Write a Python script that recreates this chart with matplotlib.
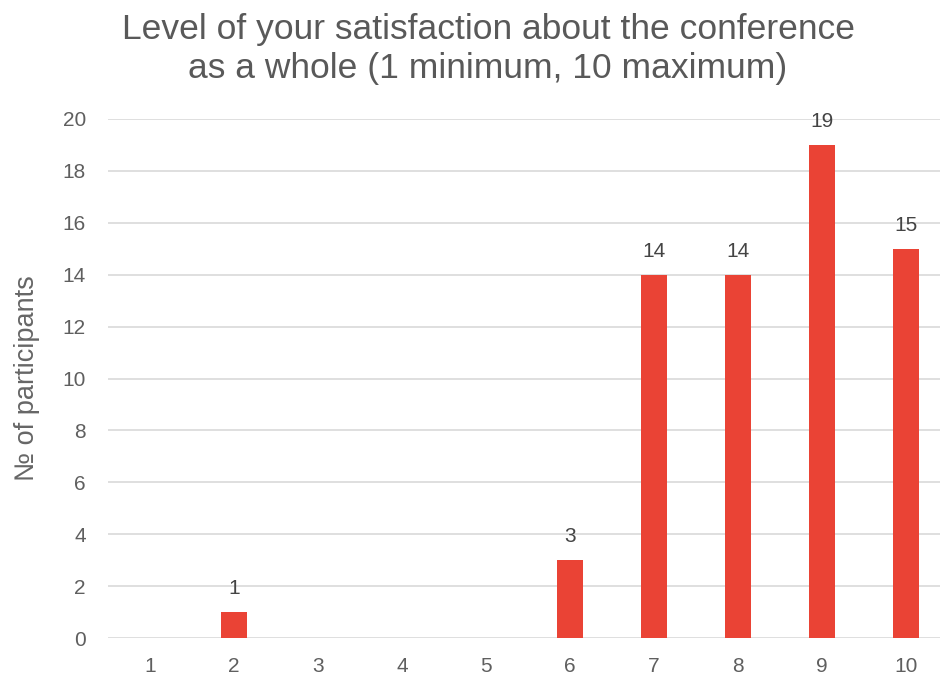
import matplotlib
matplotlib.use("Agg")
import matplotlib.pyplot as plt

plt.rcParams['font.family'] = ['Liberation Sans', 'DejaVu Sans']

# Survey results: satisfaction score vs number of participants
scores = [1, 2, 3, 4, 5, 6, 7, 8, 9, 10]
participants = [0, 1, 0, 0, 0, 3, 14, 14, 19, 15]
y_ticks = [0, 2, 4, 6, 8, 10, 12, 14, 16, 18, 20]

title_lines = ["Level of your satisfaction about the conference",
               "as a whole (1 minimum, 10 maximum)"]
ylabel = "№ of participants"

fig = plt.figure(figsize=(9.4, 6.76), dpi=100)
ax = fig.add_axes([108 / 940, 38 / 676, 840 / 940, 519 / 676])

ax.bar(scores, participants, width=0.31, color="#EA4335", zorder=3)

for x, v in zip(scores, participants):
    if v > 0:
        ax.annotate(str(v), (x, v), xytext=(0, 10), textcoords="offset points",
                    ha="center", va="bottom", fontsize=15, color="#444444")

ax.set_xlim(0.5, 10.5)
ax.set_ylim(0, 20)
ax.set_xticks(scores)
ax.set_yticks(y_ticks)
ax.grid(axis="y", color="#d9d9d9", linewidth=1.2, zorder=0)
ax.tick_params(length=0, labelsize=15, labelcolor="#5f5f5f", pad=14)
ax.tick_params(axis="y", pad=16)
for s in ax.spines.values():
    s.set_visible(False)

ax.set_ylabel(ylabel, fontsize=19.5, color="#666666", labelpad=16)

# title drawn line by line so the baselines sit where the reference has them
for i, line in enumerate(title_lines):
    fig.text(488 / 940, 1 - (39 + 39 * i) / 676, line, ha="center", va="baseline",
             fontsize=25.5, color="#595959")

fig.savefig("out.png", dpi=100)
